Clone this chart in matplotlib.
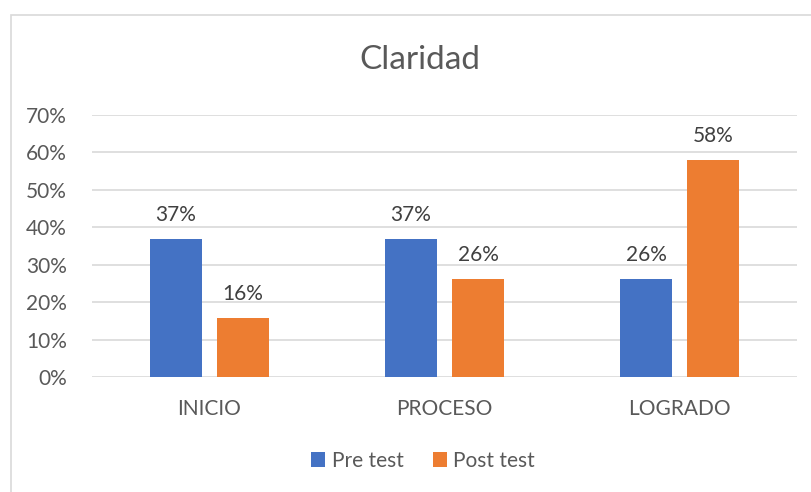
import matplotlib
matplotlib.use("Agg")
import matplotlib.pyplot as plt
from matplotlib.patches import Rectangle
import numpy as np

categories = ["INICIO", "PROCESO", "LOGRADO"]
pre_test = [7/19, 7/19, 5/19]
post_test = [3/19, 5/19, 11/19]
series_names = ["Pre test", "Post test"]
yticks = [0, 0.1, 0.2, 0.3, 0.4, 0.5, 0.6, 0.7]

plt.rcParams['font.family'] = ['Lato', 'DejaVu Sans']
txt = "#595959"
blue = "#4472C4"
orange = "#ED7D31"

fig = plt.figure(figsize=(8.12, 4.92), dpi=100)
W, H = 812, 492
ax = fig.add_axes([92/W, 1-377/H, (797-92)/W, (377-115)/H])

# chart border
fig.patches.append(Rectangle((11/W, -0.1), 2, (1-15/H)+0.1, transform=fig.transFigure,
                             fill=False, edgecolor="#d9d9d9", linewidth=1.2))

x = np.arange(len(categories))
bw = 0.225
gap = 0.06
off = (bw + gap) / 2
b1 = ax.bar(x - off, pre_test, bw, color=blue, label=series_names[0], zorder=3)
b2 = ax.bar(x + off, post_test, bw, color=orange, label=series_names[1], zorder=3)

for bars in (b1, b2):
    for r in bars:
        h = r.get_height()
        ax.annotate(f"{h*100:.0f}%", (r.get_x() + r.get_width()/2, h),
                    xytext=(0, 10), textcoords="offset points", ha="center", va="bottom",
                    fontsize=15, color="#404040")

ax.set_xlim(-0.5, len(categories) - 0.5)
ax.set_ylim(0, 0.7)
ax.set_yticks(yticks)
ax.set_yticklabels([f"{int(round(t*100))}%" for t in yticks], fontsize=15, color=txt)
ax.set_xticks(x)
ax.set_xticklabels(categories, fontsize=15, color=txt)
ax.tick_params(axis='both', length=0)
ax.tick_params(axis='y', pad=18)
ax.tick_params(axis='x', pad=16)
ax.grid(axis='y', color="#d9d9d9", linewidth=1.2, zorder=0)
for s in ax.spines.values():
    s.set_visible(False)

fig.text(420/W, 1-60/H, "Claridad", ha="center", va="center", fontsize=24, color=txt)

fig.legend(handles=[b1, b2], loc="center", bbox_to_anchor=(423/W, 1-461/H), ncol=2,
           frameon=False, fontsize=15, handlelength=0.7, handleheight=0.7,
           handletextpad=0.3, columnspacing=1.4, labelcolor=txt)

fig.savefig("out.png", dpi=100)
